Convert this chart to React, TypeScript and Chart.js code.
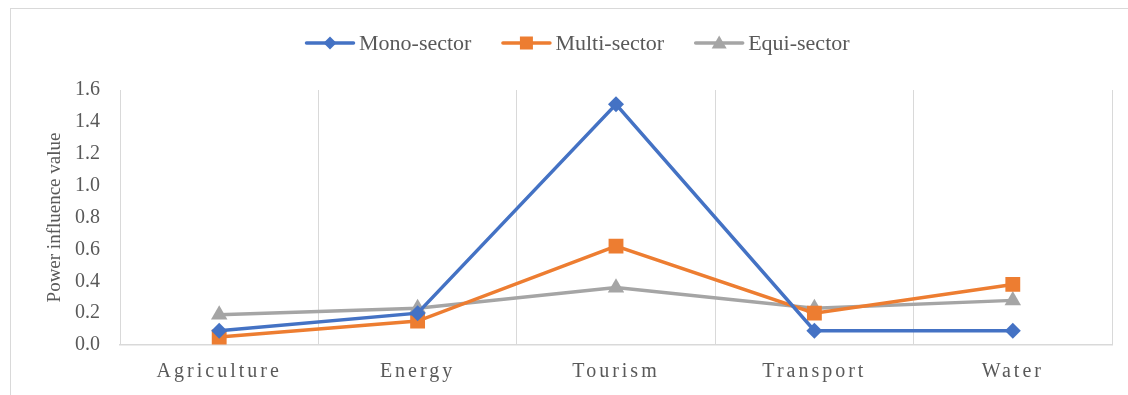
import React, { useEffect, useRef } from "react";
import { Chart, registerables } from "chart.js";

Chart.register(...registerables);

const categories = ["Agriculture", "Energy", "Tourism", "Transport", "Water"];
const monoSector = [0.09, 0.2, 1.51, 0.09, 0.09];
const multiSector = [0.05, 0.15, 0.62, 0.2, 0.38];
const equiSector = [0.19, 0.23, 0.36, 0.23, 0.28];
const seriesNames = ["Mono-sector", "Multi-sector", "Equi-sector"];
const seriesColors = ["#4472C4", "#ED7D31", "#A5A5A5"];
const seriesMarkers = ["rectRot", "rect", "triangle"];
const yTicks = [0, 0.2, 0.4, 0.6, 0.8, 1.0, 1.2, 1.4, 1.6];

const FONT = "'Liberation Serif', 'Times New Roman', serif";
const TEXT = "#595959";
const GRID = "#D9D9D9";

function drawMarker(ctx: CanvasRenderingContext2D, marker: string, cx: number, cy: number) {
  ctx.beginPath();
  if (marker === "rectRot") {
    ctx.moveTo(cx, cy - 6.5);
    ctx.lineTo(cx + 6.5, cy);
    ctx.lineTo(cx, cy + 6.5);
    ctx.lineTo(cx - 6.5, cy);
  } else if (marker === "rect") {
    ctx.rect(cx - 6.5, cy - 6.5, 13, 13);
  } else {
    ctx.moveTo(cx, cy - 7.5);
    ctx.lineTo(cx + 7.5, cy + 5.5);
    ctx.lineTo(cx - 7.5, cy + 5.5);
  }
  ctx.closePath();
  ctx.fill();
}

export default function App() {
  const ref = useRef<HTMLCanvasElement | null>(null);

  useEffect(() => {
    if (!ref.current) return;
    const seriesData = [monoSector, multiSector, equiSector];
    const radii = [8, 10.5, 9.5];

    const spacingPlugin = {
      id: "xLetterSpacing",
      afterLayout(chart: any) {
        const xs = chart.scales.x;
        if (!xs || xs.__patched) return;
        const orig = xs.drawLabels.bind(xs);
        xs.drawLabels = function (area: any) {
          const ctx = this.ctx;
          const prev = ctx.letterSpacing;
          ctx.letterSpacing = "3px";
          orig(area);
          ctx.letterSpacing = prev || "0px";
        };
        xs.__patched = true;
      },
    };

    const legendPlugin = {
      id: "lineLegend",
      afterDraw(chart: any) {
        const ctx: CanvasRenderingContext2D = chart.ctx;
        ctx.save();
        ctx.font = `22px ${FONT}`;
        ctx.textBaseline = "middle";
        ctx.textAlign = "left";
        const lineW = 50;
        const gapText = 4;
        const gapItem = 30;
        const y = 43;
        let x = 305;
        seriesNames.forEach((name, i) => {
          ctx.strokeStyle = seriesColors[i];
          ctx.fillStyle = seriesColors[i];
          ctx.lineWidth = 3.5;
          ctx.lineCap = "round";
          ctx.beginPath();
          ctx.moveTo(x + 1.5, y);
          ctx.lineTo(x + lineW - 1.5, y);
          ctx.stroke();
          drawMarker(ctx, seriesMarkers[i], x + lineW / 2, y);
          ctx.fillStyle = TEXT;
          const tx = x + lineW + gapText;
          ctx.fillText(name, tx, y + 1);
          x = tx + ctx.measureText(name).width + gapItem;
        });
        ctx.restore();
      },
    };

    const chart = new Chart(ref.current, {
      type: "line",
      data: {
        labels: categories,
        datasets: seriesNames.map((name, i) => ({
          label: name,
          data: seriesData[i],
          borderColor: seriesColors[i],
          backgroundColor: seriesColors[i],
          borderWidth: 3.5,
          pointStyle: seriesMarkers[i] as any,
          pointRadius: radii[i],
          pointHoverRadius: radii[i],
          pointBorderWidth: 0,
          pointBackgroundColor: seriesColors[i],
          tension: 0,
        })),
      },
      options: {
        animation: false,
        responsive: false,
        layout: { padding: { left: 44, right: 16, top: 90, bottom: 0 } },
        plugins: {
          tooltip: { enabled: false },
          legend: { display: false },
        },
        scales: {
          x: {
            offset: true,
            grid: { display: true, offset: true, color: GRID, lineWidth: 1, drawTicks: false },
            border: { display: true, color: GRID, width: 1.5 },
            ticks: { color: TEXT, font: { family: FONT, size: 20 }, padding: 15 },
            afterFit: (s: any) => {
              s.height = 50;
            },
          },
          y: {
            min: 0,
            max: 1.6,
            afterBuildTicks: (s: any) => {
              s.ticks = yTicks.map((v) => ({ value: v }));
            },
            grid: { display: false, drawTicks: false },
            border: { display: false },
            ticks: {
              color: TEXT,
              font: { family: FONT, size: 20 },
              padding: 20,
              callback: (v: any) => Number(v).toFixed(1),
            },
            title: {
              display: true,
              text: "Power influence value",
              color: TEXT,
              font: { family: FONT, size: 19 },
              padding: { top: 0, bottom: 4 },
            },
            afterFit: (s: any) => {
              s.width = 76;
            },
          },
        },
      },
      plugins: [spacingPlugin, legendPlugin],
    });
    return () => chart.destroy();
  }, []);

  return (
    <div style={{ position: "fixed", left: 0, top: 0, width: 1128, height: 395, overflow: "hidden", background: "#fff" }}>
      <div
        style={{
          position: "absolute",
          left: 10,
          top: 8,
          width: 1300,
          height: 600,
          border: `1px solid ${GRID}`,
          boxSizing: "border-box",
        }}
      />
      <canvas ref={ref} width={1128} height={395} style={{ position: "absolute", left: 0, top: 0 }} />
    </div>
  );
}
